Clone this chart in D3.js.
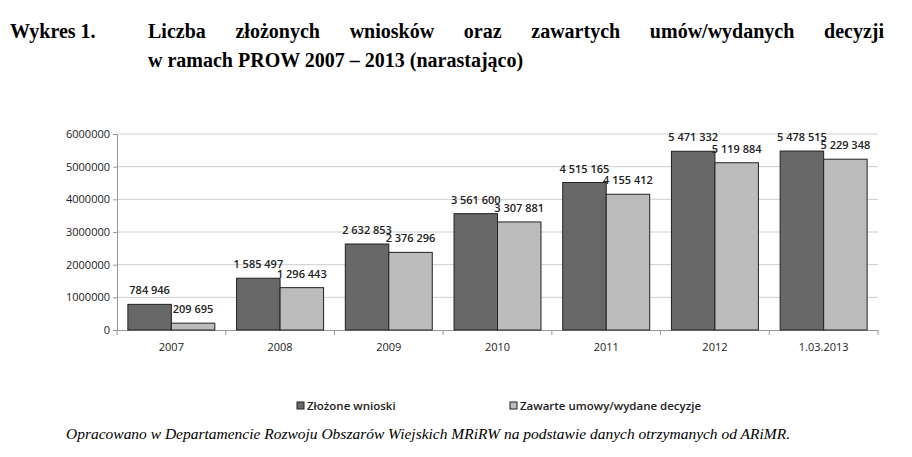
<!DOCTYPE html>
<html><head><meta charset="utf-8">
<script src="https://cdn.jsdelivr.net/npm/d3@7"></script>
<style>body{margin:0;background:#fff}</style></head>
<body><svg id="c" width="912" height="457"></svg>
<script>
const categories=["2007","2008","2009","2010","2011","2012","1.03.2013"];
const zlozone=[784946,1585497,2632853,3561600,4515165,5471332,5478515];
const zawarte=[209695,1296443,2376296,3307881,4155412,5119884,5229348];
const yTicks=[0,1000000,2000000,3000000,4000000,5000000,6000000];
const seriesNames=["Złożone wnioski","Zawarte umowy/wydane decyzje"];
const colors=["#686868","#bcbcbc"];

const svg=d3.select("#c");
const serif="'Liberation Serif','Times New Roman',serif";
const sans="'Open Sans','DejaVu Sans',sans-serif";
svg.append("text").attr("x",10).attr("y",38).attr("font-family",serif).attr("font-weight","bold").attr("font-size",20).text("Wykres 1.");
const t1=svg.append("text").attr("x",148).attr("y",38).attr("font-family",serif).attr("font-weight","bold").attr("font-size",20)
 .text("Liczba złożonych wniosków oraz zawartych umów/wydanych decyzji");
const len=t1.node().getComputedTextLength();
t1.attr("word-spacing",Math.max(0,(736-len)/6));
svg.append("text").attr("x",148).attr("y",67).attr("font-family",serif).attr("font-weight","bold").attr("font-size",20).text("w ramach PROW 2007 – 2013 (narastająco)");

const x=d3.scaleBand().domain(categories).range([117,878]).paddingInner(0).paddingOuter(0);
const y=d3.scaleLinear().domain([0,6000000]).range([330,134]);
const g=svg.append("g");
g.selectAll(".gl").data(yTicks.slice(1)).join("line").attr("x1",117).attr("x2",878)
 .attr("y1",d=>y(d)).attr("y2",d=>y(d)).attr("stroke","#cfcfcf");
const ya=g.append("g").attr("transform","translate(117,0)").call(d3.axisLeft(y).tickValues(yTicks).tickFormat(d=>String(d)).tickSize(4));
ya.selectAll("text").attr("font-family",sans).attr("font-size",11).attr("fill","#222");
ya.selectAll("line,path").attr("stroke","#999");
const xa=g.append("g").attr("transform","translate(0,330)").call(d3.axisBottom(x).tickSize(0).tickPadding(13));
xa.select("path").attr("stroke","#999");
xa.selectAll(".sep").data(categories.concat([null])).join("line").attr("class","sep")
 .attr("x1",(d,i)=>117+i*x.bandwidth()).attr("x2",(d,i)=>117+i*x.bandwidth()).attr("y1",0).attr("y2",5).attr("stroke","#999");
xa.selectAll("text").attr("font-family",sans).attr("font-size",11).attr("fill","#222");

const bw=x.bandwidth()*0.4, pad=x.bandwidth()*0.1;
const fmt=v=>d3.format(",")(v).replace(/,/g," ");
[zlozone,zawarte].forEach((arr,s)=>{
 g.selectAll(".b"+s).data(arr).join("rect").attr("x",(d,i)=>x(categories[i])+pad+s*bw).attr("width",bw)
  .attr("y",d=>y(d)).attr("height",d=>330-y(d)).attr("fill",colors[s]).attr("stroke","#222").attr("stroke-width",1);
 g.selectAll(".l"+s).data(arr).join("text").attr("x",(d,i)=>x(categories[i])+pad+s*bw+bw/2).attr("y",d=>y(d)-10)
  .attr("text-anchor","middle").attr("font-family",sans).attr("font-size",11).attr("font-weight",600).attr("fill","#222").text(fmt);
});
const lx=[297,510];
seriesNames.forEach((n,i)=>{
 svg.append("rect").attr("x",lx[i]).attr("y",402).attr("width",7).attr("height",7).attr("fill",colors[i]).attr("stroke","#222");
 svg.append("text").attr("x",lx[i]+10).attr("y",410).attr("font-family",sans).attr("font-size",11.5).attr("font-weight",600).attr("fill","#222").text(n);
});
svg.append("text").attr("x",66).attr("y",439).attr("font-family",serif).attr("font-style","italic").attr("font-size",14)
 .attr("textLength",724).attr("lengthAdjust","spacingAndGlyphs")
 .text("Opracowano w Departamencie Rozwoju Obszarów Wiejskich MRiRW na podstawie danych otrzymanych od ARiMR.");
</script></body></html>
